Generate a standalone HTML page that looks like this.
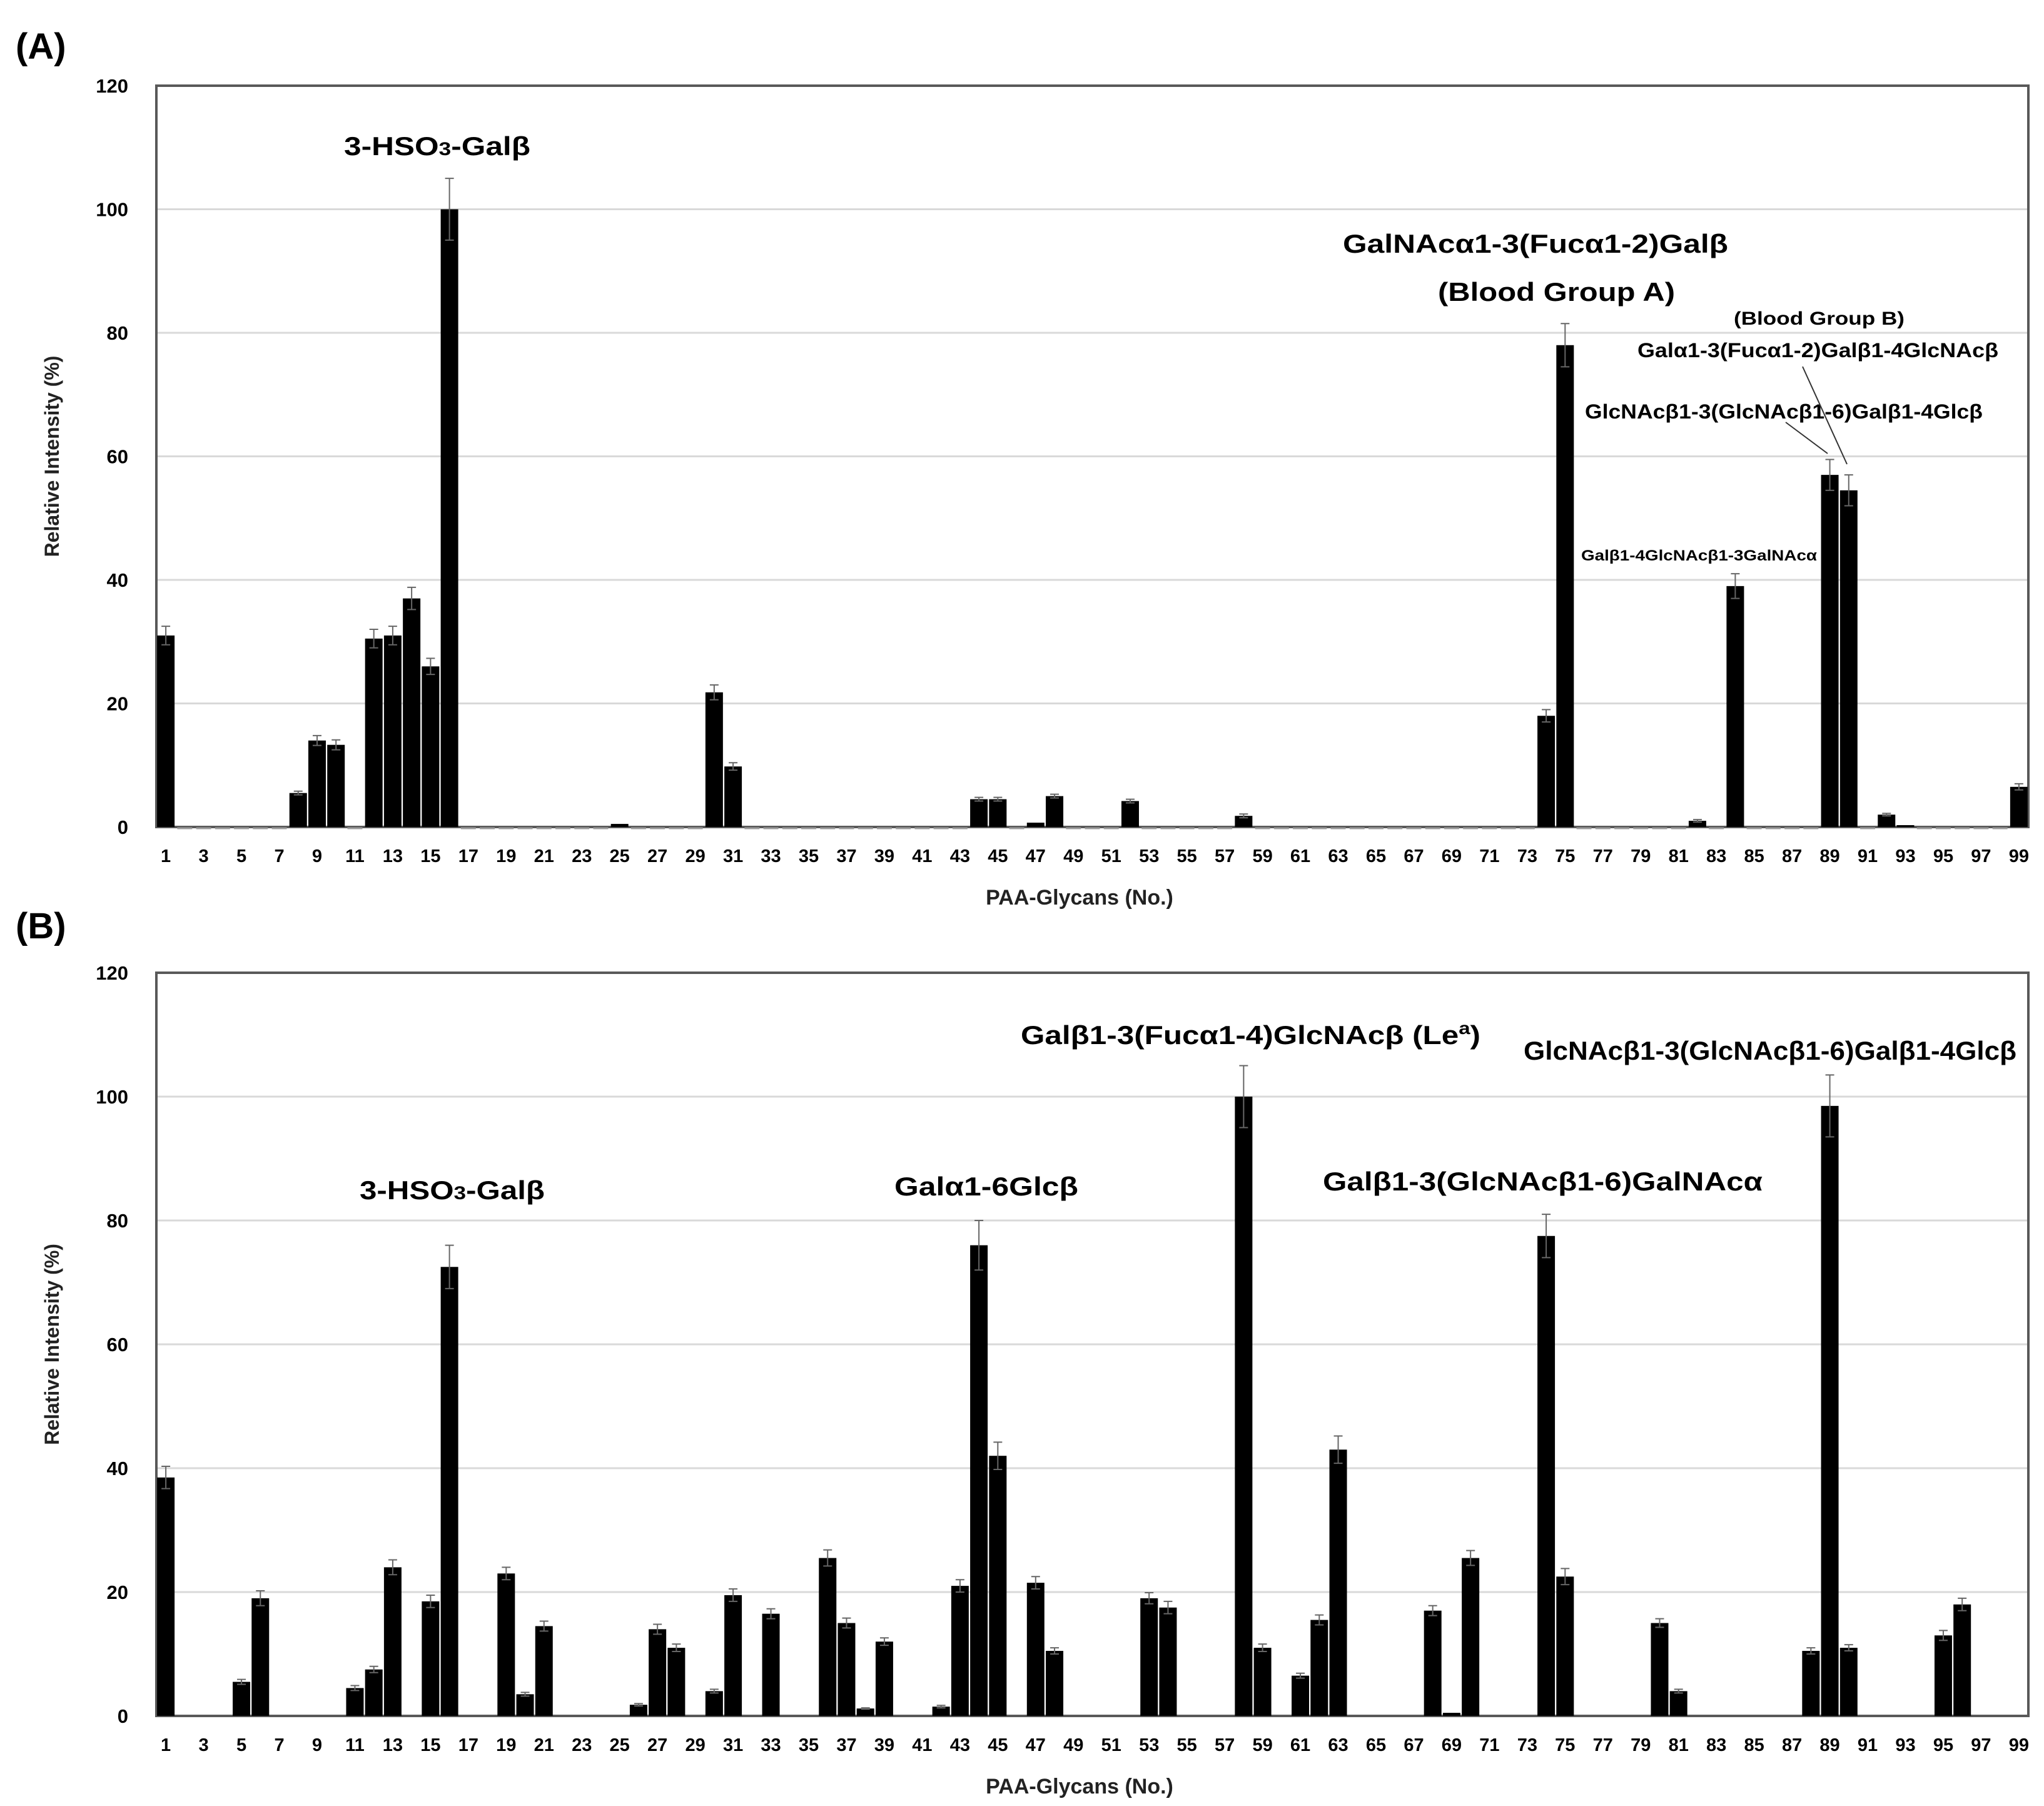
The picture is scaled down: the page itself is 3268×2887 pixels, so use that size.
<!DOCTYPE html>
<html><head><meta charset="utf-8"><style>
html,body{margin:0;padding:0;background:#fff;}
svg{display:block;}
text{font-family:"Liberation Sans","DejaVu Sans",sans-serif;}
</style></head><body>
<svg id="chart" width="3268" height="2887" viewBox="0 0 3268 2887" xmlns="http://www.w3.org/2000/svg">
<rect width="3268" height="2887" fill="#fff"/>
<g id="panelA"></g>
<g id="panelB"></g>
<g id="annots">
<text x="25" y="94" font-size="58" font-weight="bold">(A)</text>
<text x="25" y="1500" font-size="58" font-weight="bold">(B)</text>
<text x="550" y="248" font-size="42" font-weight="bold" textLength="298" lengthAdjust="spacingAndGlyphs">3-HSO<tspan font-size="30">3</tspan>-Galβ</text>
<text x="2147" y="404" font-size="42" font-weight="bold" textLength="616" lengthAdjust="spacingAndGlyphs">GalNAcα1-3(Fucα1-2)Galβ</text>
<text x="2299" y="481" font-size="42" font-weight="bold" textLength="379" lengthAdjust="spacingAndGlyphs">(Blood Group A)</text>
<text x="2772" y="519" font-size="30" font-weight="bold" textLength="273" lengthAdjust="spacingAndGlyphs">(Blood Group B)</text>
<text x="2618" y="571" font-size="32" font-weight="bold" textLength="577" lengthAdjust="spacingAndGlyphs">Galα1-3(Fucα1-2)Galβ1-4GlcNAcβ</text>
<text x="2534" y="669" font-size="32" font-weight="bold" textLength="636" lengthAdjust="spacingAndGlyphs">GlcNAcβ1-3(GlcNAcβ1-6)Galβ1-4Glcβ</text>
<text x="2528" y="896" font-size="24" font-weight="bold" textLength="377" lengthAdjust="spacingAndGlyphs">Galβ1-4GlcNAcβ1-3GalNAcα</text>
<line x1="2855" y1="675" x2="2922" y2="725" stroke="#333" stroke-width="2"/>
<line x1="2882" y1="586" x2="2953" y2="742" stroke="#333" stroke-width="2"/>
<text x="575" y="1917" font-size="42" font-weight="bold" textLength="296" lengthAdjust="spacingAndGlyphs">3-HSO<tspan font-size="30">3</tspan>-Galβ</text>
<text x="1430" y="1911" font-size="42" font-weight="bold" textLength="294" lengthAdjust="spacingAndGlyphs">Galα1-6Glcβ</text>
<text x="1632" y="1669" font-size="42" font-weight="bold" textLength="735" lengthAdjust="spacingAndGlyphs">Galβ1-3(Fucα1-4)GlcNAcβ (Le<tspan font-size="28" dy="-16">a</tspan><tspan dy="16">)</tspan></text>
<text x="2115" y="1903" font-size="42" font-weight="bold" textLength="703" lengthAdjust="spacingAndGlyphs">Galβ1-3(GlcNAcβ1-6)GalNAcα</text>
<text x="2436" y="1694" font-size="42" font-weight="bold" textLength="788" lengthAdjust="spacingAndGlyphs">GlcNAcβ1-3(GlcNAcβ1-6)Galβ1-4Glcβ</text>
</g>
</svg>
<script>
const categories = Array.from({length:99},(_,i)=>String(i+1));
const valuesA = [31,0,0,0,0,0,0,5.5,14,13.3,
0,30.5,31,37,26,100,0,0,0,0,
0,0,0,0,0.5,0,0,0,0,21.8,
9.8,0,0,0,0,0,0,0,0,0,
0,0,0,4.5,4.5,0,0.7,5,0,0,
0,4.2,0,0,0,0,0,1.8,0,0,
0,0,0,0,0,0,0,0,0,0,
0,0,0,18,78,0,0,0,0,0,
0,1,0,39,0,0,0,0,57,54.5,
0,2,0.3,0,0,0,0,0,6.5];
const errA = [1.5,0,0,0,0,0,0,0.3,0.8,0.8,
0,1.5,1.5,1.8,1.3,5,0,0,0,0,
0,0,0,0,0,0,0,0,0,1.2,
0.6,0,0,0,0,0,0,0,0,0,
0,0,0,0.3,0.3,0,0,0.3,0,0,
0,0.3,0,0,0,0,0,0.3,0,0,
0,0,0,0,0,0,0,0,0,0,
0,0,0,1,3.5,0,0,0,0,0,
0,0.2,0,2,0,0,0,0,2.5,2.5,
0,0.2,0,0,0,0,0,0,0.5];
const valuesB = [38.5,0,0,0,5.5,19,0,0,0,0,
4.5,7.5,24,0,18.5,72.5,0,0,23,3.5,
14.5,0,0,0,0,1.8,14,11,0,4,
19.5,0,16.5,0,0,25.5,15,1.2,12,0,
0,1.5,21,76,42,0,21.5,10.5,0,0,
0,0,19,17.5,0,0,0,100,11,0,
6.5,15.5,43,0,0,0,0,17,0.5,25.5,
0,0,0,77.5,22.5,0,0,0,0,15,
4,0,0,0,0,0,0,10.5,98.5,11,
0,0,0,0,13,18,0,0,0];
const errB = [1.8,0,0,0,0.4,1.2,0,0,0,0,
0.4,0.5,1.2,0,1,3.5,0,0,1,0.3,
0.8,0,0,0,0,0.2,0.8,0.6,0,0.3,
1,0,0.8,0,0,1.3,0.8,0.1,0.6,0,
0,0.2,1,4,2.2,0,1,0.5,0,0,
0,0,0.9,1,0,0,0,5,0.6,0,
0.4,0.8,2.2,0,0,0,0,0.8,0,1.2,
0,0,0,3.5,1.3,0,0,0,0,0.7,
0.3,0,0,0,0,0,0,0.5,5,0.5,
0,0,0,0,0.8,1,0,0,0];
const yTicks = [0,20,40,60,80,100,120];
const NS='http://www.w3.org/2000/svg';
function mk(tag,attrs,parent){const e=document.createElementNS(NS,tag);for(const k in attrs)e.setAttribute(k,attrs[k]);parent.appendChild(e);return e;}
function drawPanel(g,vals,errs,top,bottom,showZero,prefix){
  const L=250,R=3243,yMax=120;
  const step=(R-L)/categories.length;
  const x=i=>L+step*(i+0.5);
  const y=v=>bottom-(bottom-top)*v/yMax;
  yTicks.forEach(t=>{
    if(t>0&&t<120){const gl=mk('line',{x1:L,x2:R,y1:y(t),y2:y(t),stroke:'#d9d9d9','stroke-width':3},g);
    
    }
    const tl=mk('text',{x:205,y:y(t)+11,'text-anchor':'end','font-size':31,'font-weight':'bold'},g);
    tl.textContent=t;
    
    
  });
  const fr=mk('rect',{x:L,y:top,width:R-L,height:bottom-top,fill:'none',stroke:'#595959','stroke-width':4},g);
  
  
  vals.forEach((v,i)=>{
    const cx=x(i),bw=28;
    if(v>0){
      const b=mk('rect',{x:cx-bw/2,y:y(v),width:bw,height:bottom-y(v),fill:'#000'},g);
      
      
      const e=errs[i];
      if(e>0){
        const eb=mk('path',{d:`M${cx},${y(v+e)}V${y(v-e)}M${cx-7},${y(v+e)}h14M${cx-7},${y(v-e)}h14`,stroke:'#666','stroke-width':2,fill:'none'},g);
        
        
      }
    } else if(showZero){
      const z=mk('line',{x1:cx-12,x2:cx+12,y1:bottom+2,y2:bottom+2,stroke:'#999','stroke-width':3},g);
      
      
    }
    if(i%2===0){
      const tl=mk('text',{x:cx,y:bottom+56,'text-anchor':'middle','font-size':29,'font-weight':'bold'},g);
      tl.textContent=categories[i];
      
      
    }
  });
  const xt=mk('text',{x:1726,y:bottom+124,'text-anchor':'middle','font-size':34,'font-weight':'bold',fill:'#222'},g);
  xt.textContent='PAA-Glycans (No.)';
  
  
  const cy=(top+bottom)/2;
  const yt=mk('text',{x:94,y:cy,'text-anchor':'middle','font-size':32,'font-weight':'bold',fill:'#222',transform:`rotate(-90 94 ${cy})`},g);
  yt.textContent='Relative Intensity (%)';
  
  
}
drawPanel(document.getElementById('panelA'),valuesA,errA,137,1322,true,'a');
drawPanel(document.getElementById('panelB'),valuesB,errB,1555,2743,false,'b');
</script>
</body></html>
